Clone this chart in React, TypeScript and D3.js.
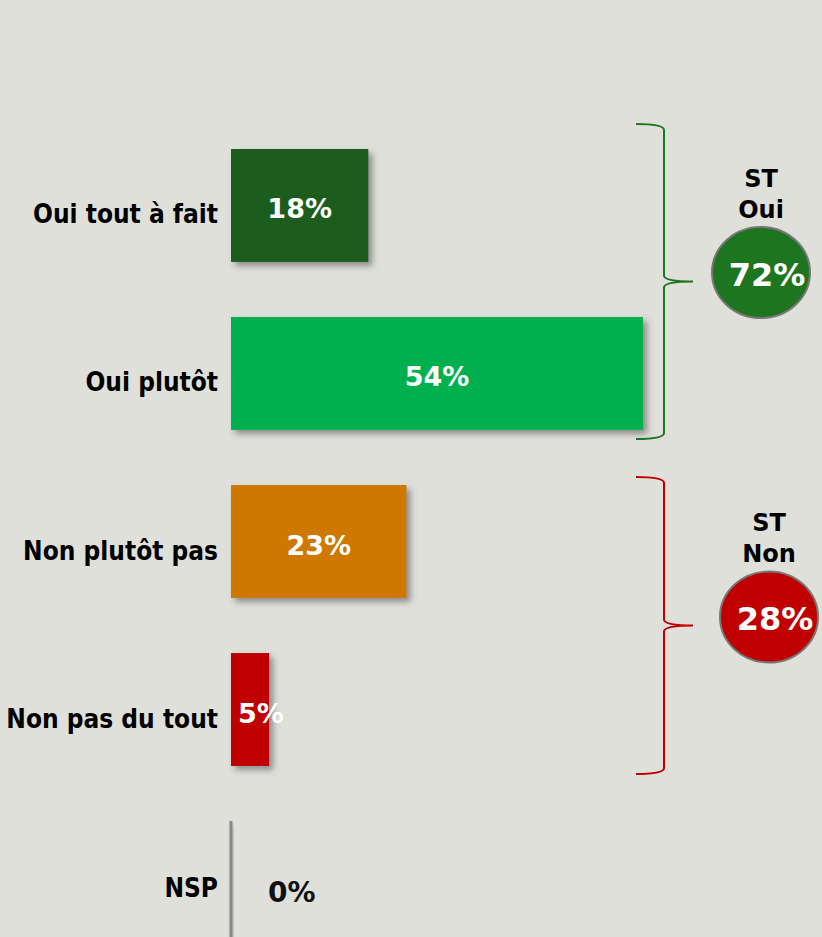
import React from "react";
import * as d3 from "d3";

const categories = ["Oui tout à fait", "Oui plutôt", "Non plutôt pas", "Non pas du tout", "NSP"];
const values = [18, 54, 23, 5, 0];
const barColors = ["#1a5c1a", "#00b050", "#cf7806", "#c00000", "#888888"];
const valueLabels = ["18%", "54%", "23%", "5%", "0%"];
const groupNames = ["ST\nOui", "ST\nNon"];
const groupValues = ["72%", "28%"];
const groupColors = ["#1e7520", "#c00000"];
const groupMembers = [[0, 1], [2, 3]];

const W = 822;
const H = 937;
const FONT = "'DejaVu Sans', Verdana, sans-serif";
const FONT_COND = "'DejaVu Sans Condensed', 'DejaVu Sans', sans-serif";

export default function App() {
  const x = d3.scaleLinear().domain([0, 54]).range([231, 643]);
  const y = d3
    .scaleBand<string>()
    .domain(categories)
    .range([149, 934])
    .paddingInner(0.328)
    .paddingOuter(0);
  const bw = y.bandwidth();

  const braceExt = [
    { top: -25, bottom: 9 },
    { top: -8, bottom: 8 },
  ];
  const circleCx = [761, 769];
  const circleCy = [272.5, 617];

  const bracePath = (top: number, bottom: number, xl: number, xv: number, xt: number) => {
    const mid = (top + bottom) / 2;
    const r = 6;
    return [
      `M${xl},${top}`,
      `Q${xv},${top} ${xv},${top + r}`,
      `L${xv},${mid - r}`,
      `Q${xv},${mid} ${xt},${mid}`,
      `Q${xv},${mid} ${xv},${mid + r}`,
      `L${xv},${bottom - r}`,
      `Q${xv},${bottom} ${xl},${bottom}`,
    ].join(" ");
  };

  return (
    <svg
      width={W}
      height={H}
      style={{ position: "absolute", left: 0, top: 0, background: "#dfe0da" }}
      fontFamily={FONT}
    >
      <defs>
        <filter id="shadow" x="-20%" y="-20%" width="150%" height="150%">
          <feDropShadow dx="4" dy="4" stdDeviation="3" floodColor="#555" floodOpacity="0.6" />
        </filter>
      </defs>
      <rect x={0} y={0} width={W} height={H} fill="#dfe0da" />

      {categories.map((c, i) => {
        const y0 = y(c)!;
        const x0 = x(0);
        const w = Math.max(x(values[i]) - x0, 3);
        const isZero = values[i] === 0;
        const narrow = w < 60;
        return (
          <g key={c}>
            <rect
              x={isZero ? x0 - 1.5 : x0}
              y={y0}
              width={w}
              height={isZero ? bw + 10 : bw}
              fill={barColors[i]}
              filter="url(#shadow)"
            />
            <text
              x={218}
              y={y0 + bw / 2 + (isZero ? 19 : 18)}
              textAnchor="end"
              fontWeight="bold"
              fontSize={26}
              fontFamily={FONT_COND}
              fill="#000"
            >
              {c}
            </text>
            <text
              x={isZero ? 268 : narrow ? x0 + 7 : x0 + w / 2}
              y={y0 + bw / 2 + (isZero ? 24 : 13)}
              textAnchor={isZero || narrow ? "start" : "middle"}
              fontWeight="bold"
              fontSize={isZero ? 28 : 27}
              fill={isZero ? "#111" : "#fff"}
            >
              {valueLabels[i]}
            </text>
          </g>
        );
      })}

      {groupMembers.map((m, g) => {
        const top = y(categories[m[0]])! + braceExt[g].top;
        const bottom = y(categories[m[m.length - 1]])! + bw + braceExt[g].bottom;
        const lines = groupNames[g].split("\n");
        return (
          <g key={g}>
            <path
              d={bracePath(top, bottom, 636, 664, 693)}
              fill="none"
              stroke={groupColors[g]}
              strokeWidth={2}
            />
            {lines.map((ln, k) => (
              <text
                key={k}
                x={circleCx[g]}
                y={circleCy[g] - 86 + k * 31}
                textAnchor="middle"
                fontWeight="bold"
                fontSize={24}
                fill="#000"
              >
                {ln}
              </text>
            ))}
            <ellipse
              cx={circleCx[g]}
              cy={circleCy[g]}
              rx={49}
              ry={45.5}
              fill={groupColors[g]}
              stroke="#777"
              strokeWidth={2}
            />
            <text
              x={circleCx[g] + 6}
              y={circleCy[g] + 13}
              textAnchor="middle"
              fontWeight="bold"
              fontSize={32}
              fill="#fff"
            >
              {groupValues[g]}
            </text>
          </g>
        );
      })}
    </svg>
  );
}
